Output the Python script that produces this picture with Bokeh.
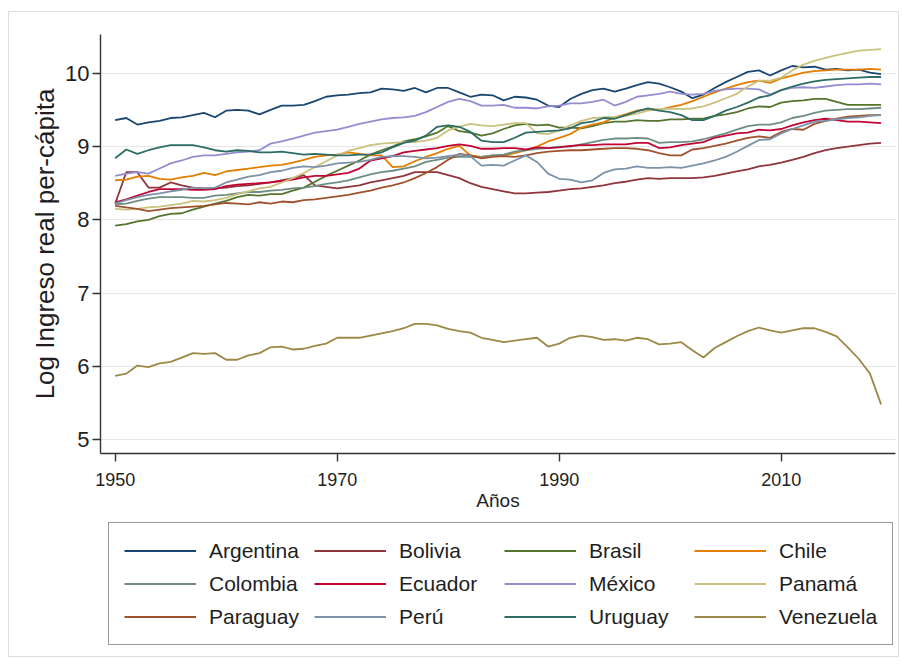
from bokeh.plotting import figure
from bokeh.layouts import column
from bokeh.models import Range1d, FixedTicker, Legend, LegendItem
from bokeh.embed import file_html
from bokeh.resources import INLINE

# Log real GDP per capita, 1950-2019
years = list(range(1950, 2020))

argentina = [9.36, 9.39, 9.30, 9.33, 9.35, 9.39, 9.40, 9.43, 9.46, 9.40,
             9.49, 9.50, 9.49, 9.44, 9.50, 9.56, 9.56, 9.57, 9.62, 9.68,
             9.70, 9.71, 9.73, 9.74, 9.79, 9.78, 9.76, 9.80, 9.74, 9.80,
             9.80, 9.74, 9.68, 9.71, 9.70, 9.63, 9.68, 9.67, 9.64, 9.56,
             9.54, 9.65, 9.72, 9.77, 9.79, 9.75, 9.79, 9.84, 9.88, 9.86,
             9.81, 9.75, 9.66, 9.71, 9.80, 9.88, 9.95, 10.02, 10.04, 9.97,
             10.04, 10.10, 10.08, 10.09, 10.05, 10.06, 10.04, 10.05, 10.01, 9.99]
bolivia = [8.22, 8.65, 8.65, 8.44, 8.44, 8.51, 8.47, 8.44, 8.43, 8.43,
           8.44, 8.46, 8.47, 8.49, 8.51, 8.54, 8.57, 8.61, 8.47, 8.45,
           8.43, 8.45, 8.47, 8.51, 8.54, 8.57, 8.60, 8.65, 8.65, 8.65,
           8.61, 8.57, 8.50, 8.45, 8.42, 8.39, 8.36, 8.36, 8.37, 8.38,
           8.40, 8.42, 8.43, 8.45, 8.47, 8.50, 8.52, 8.55, 8.57, 8.56,
           8.57, 8.57, 8.57, 8.58, 8.60, 8.63, 8.66, 8.69, 8.73, 8.75,
           8.78, 8.82, 8.86, 8.91, 8.95, 8.98, 9.00, 9.02, 9.04, 9.05]
brasil = [7.92, 7.94, 7.98, 8.00, 8.05, 8.08, 8.09, 8.14, 8.18, 8.22,
          8.26, 8.31, 8.34, 8.33, 8.35, 8.35, 8.40, 8.44, 8.52, 8.60,
          8.67, 8.74, 8.81, 8.89, 8.95, 9.00, 9.07, 9.10, 9.14, 9.19,
          9.28, 9.21, 9.19, 9.15, 9.18, 9.24, 9.29, 9.31, 9.29, 9.30,
          9.26, 9.26, 9.25, 9.28, 9.32, 9.34, 9.34, 9.36, 9.35, 9.35,
          9.37, 9.37, 9.38, 9.38, 9.42, 9.44, 9.47, 9.52, 9.55, 9.54,
          9.60, 9.62, 9.63, 9.65, 9.65, 9.61, 9.57, 9.57, 9.57, 9.57]
chile = [8.54, 8.55, 8.59, 8.60, 8.56, 8.55, 8.58, 8.60, 8.64, 8.61,
         8.66, 8.68, 8.70, 8.72, 8.74, 8.75, 8.78, 8.82, 8.86, 8.88,
         8.89, 8.92, 8.90, 8.88, 8.88, 8.72, 8.73, 8.80, 8.86, 8.91,
         8.97, 9.01, 8.88, 8.86, 8.88, 8.88, 8.91, 8.95, 9.00, 9.07,
         9.12, 9.17, 9.26, 9.30, 9.33, 9.40, 9.44, 9.49, 9.51, 9.50,
         9.54, 9.57, 9.62, 9.68, 9.74, 9.79, 9.84, 9.88, 9.90, 9.87,
         9.93, 9.97, 10.01, 10.03, 10.04, 10.05, 10.05, 10.05, 10.06, 10.05]
colombia = [8.21, 8.22, 8.26, 8.29, 8.31, 8.31, 8.31, 8.30, 8.30, 8.33,
            8.34, 8.36, 8.38, 8.38, 8.40, 8.41, 8.43, 8.44, 8.46, 8.49,
            8.51, 8.54, 8.58, 8.62, 8.65, 8.67, 8.70, 8.73, 8.79, 8.82,
            8.85, 8.86, 8.86, 8.86, 8.88, 8.89, 8.93, 8.95, 8.97, 8.98,
            9.00, 9.00, 9.03, 9.06, 9.09, 9.11, 9.11, 9.12, 9.11, 9.05,
            9.06, 9.06, 9.07, 9.10, 9.14, 9.18, 9.23, 9.28, 9.30, 9.30,
            9.33, 9.39, 9.42, 9.46, 9.49, 9.50, 9.51, 9.51, 9.52, 9.53]
ecuador = [8.24, 8.28, 8.33, 8.38, 8.42, 8.42, 8.42, 8.41, 8.41, 8.42,
           8.46, 8.48, 8.49, 8.50, 8.51, 8.53, 8.55, 8.58, 8.60, 8.60,
           8.62, 8.64, 8.70, 8.81, 8.84, 8.87, 8.92, 8.94, 8.96, 8.98,
           9.01, 9.03, 9.01, 8.97, 8.97, 8.98, 8.98, 8.96, 8.99, 8.98,
           8.99, 9.01, 9.02, 9.02, 9.03, 9.03, 9.03, 9.05, 9.05, 8.98,
           8.99, 9.02, 9.04, 9.06, 9.12, 9.15, 9.18, 9.19, 9.23, 9.22,
           9.24, 9.29, 9.33, 9.36, 9.38, 9.36, 9.34, 9.34, 9.33, 9.32]
mexico = [8.60, 8.63, 8.65, 8.63, 8.70, 8.77, 8.81, 8.86, 8.88, 8.88,
          8.90, 8.92, 8.93, 8.95, 9.04, 9.07, 9.11, 9.15, 9.19, 9.21,
          9.23, 9.27, 9.31, 9.34, 9.37, 9.39, 9.40, 9.42, 9.47, 9.54,
          9.61, 9.65, 9.62, 9.56, 9.56, 9.57, 9.53, 9.53, 9.52, 9.55,
          9.56, 9.59, 9.59, 9.61, 9.64, 9.56, 9.61, 9.68, 9.70, 9.72,
          9.75, 9.72, 9.71, 9.72, 9.76, 9.78, 9.79, 9.79, 9.78, 9.71,
          9.77, 9.80, 9.81, 9.80, 9.82, 9.84, 9.85, 9.85, 9.86, 9.85]
panama = [8.15, 8.14, 8.15, 8.17, 8.18, 8.20, 8.22, 8.26, 8.25, 8.27,
          8.30, 8.35, 8.39, 8.43, 8.45, 8.51, 8.57, 8.64, 8.72, 8.80,
          8.88, 8.94, 8.98, 9.02, 9.04, 9.05, 9.06, 9.06, 9.08, 9.12,
          9.22, 9.27, 9.31, 9.29, 9.28, 9.30, 9.32, 9.32, 9.18, 9.17,
          9.22, 9.29, 9.35, 9.39, 9.40, 9.40, 9.42, 9.45, 9.49, 9.51,
          9.52, 9.51, 9.52, 9.55, 9.60, 9.66, 9.72, 9.82, 9.90, 9.90,
          9.94, 10.04, 10.12, 10.17, 10.21, 10.25, 10.28, 10.31, 10.32, 10.33]
paraguay = [8.19, 8.17, 8.15, 8.12, 8.14, 8.16, 8.17, 8.18, 8.19, 8.21,
            8.23, 8.22, 8.21, 8.24, 8.22, 8.25, 8.24, 8.27, 8.28, 8.30,
            8.32, 8.34, 8.37, 8.40, 8.44, 8.47, 8.51, 8.57, 8.64, 8.72,
            8.82, 8.90, 8.88, 8.84, 8.86, 8.87, 8.86, 8.88, 8.91, 8.93,
            8.94, 8.95, 8.95, 8.96, 8.97, 8.98, 8.98, 8.97, 8.95, 8.91,
            8.88, 8.88, 8.96, 8.98, 9.01, 9.04, 9.08, 9.12, 9.14, 9.12,
            9.20, 9.24, 9.23, 9.31, 9.35, 9.38, 9.41, 9.42, 9.43, 9.43]
peru = [8.22, 8.27, 8.31, 8.34, 8.36, 8.39, 8.41, 8.44, 8.43, 8.44,
        8.51, 8.55, 8.59, 8.61, 8.65, 8.67, 8.71, 8.73, 8.72, 8.74,
        8.77, 8.78, 8.79, 8.82, 8.86, 8.87, 8.87, 8.86, 8.84, 8.85,
        8.87, 8.89, 8.87, 8.74, 8.75, 8.74, 8.81, 8.88, 8.79, 8.63,
        8.56, 8.55, 8.51, 8.54, 8.64, 8.69, 8.70, 8.73, 8.71, 8.71,
        8.72, 8.71, 8.74, 8.77, 8.81, 8.86, 8.93, 9.01, 9.09, 9.10,
        9.18, 9.24, 9.29, 9.34, 9.35, 9.37, 9.39, 9.40, 9.42, 9.43]
uruguay = [8.84, 8.96, 8.90, 8.95, 8.99, 9.02, 9.02, 9.02, 8.99, 8.95,
           8.93, 8.95, 8.94, 8.92, 8.92, 8.93, 8.91, 8.89, 8.90, 8.89,
           8.88, 8.88, 8.89, 8.89, 8.92, 8.99, 9.05, 9.08, 9.15, 9.27,
           9.29, 9.27, 9.20, 9.08, 9.06, 9.06, 9.12, 9.19, 9.20, 9.21,
           9.22, 9.25, 9.32, 9.34, 9.39, 9.38, 9.43, 9.48, 9.52, 9.49,
           9.47, 9.43, 9.36, 9.36, 9.42, 9.49, 9.54, 9.60, 9.67, 9.70,
           9.77, 9.82, 9.86, 9.89, 9.91, 9.92, 9.93, 9.94, 9.95, 9.95]
venezuela = [5.87, 5.90, 6.01, 5.99, 6.04, 6.06, 6.12, 6.18, 6.17, 6.18,
             6.09, 6.09, 6.15, 6.18, 6.26, 6.27, 6.23, 6.24, 6.28, 6.31,
             6.39, 6.39, 6.39, 6.42, 6.45, 6.48, 6.52, 6.58, 6.58, 6.56,
             6.51, 6.48, 6.46, 6.39, 6.36, 6.33, 6.35, 6.37, 6.39, 6.27,
             6.31, 6.39, 6.42, 6.40, 6.36, 6.37, 6.35, 6.39, 6.37, 6.30,
             6.31, 6.33, 6.22, 6.12, 6.25, 6.33, 6.41, 6.48, 6.53, 6.49,
             6.46, 6.49, 6.52, 6.52, 6.47, 6.41, 6.26, 6.10, 5.90, 5.48]

countries = ["Argentina", "Bolivia", "Brasil", "Chile",
             "Colombia", "Ecuador", "México", "Panamá",
             "Paraguay", "Perú", "Uruguay", "Venezuela"]
series = [argentina, bolivia, brasil, chile, colombia, ecuador,
          mexico, panama, paraguay, peru, uruguay, venezuela]
colors = ["#1a476f", "#90353b", "#55752f", "#e37e00",
          "#6e8e84", "#c10534", "#938dd2", "#cac27e",
          "#a0522d", "#7b92a8", "#2d6d66", "#9c8847"]

y_ticks = [5, 6, 7, 8, 9, 10]
x_ticks = [1950, 1970, 1990, 2010]

FONT = "Liberation Sans"
INK = "#1e1e1e"
LINE_W = 1.8
W = 889

# ---- main chart -------------------------------------------------------
p = figure(width=W, height=505, output_backend="svg", toolbar_location=None,
           x_range=Range1d(1948.68, 2020.3), y_range=Range1d(4.81, 10.53),
           min_border_left=91, min_border_right=W - 886,
           min_border_top=22, min_border_bottom=64)
p.background_fill_color = "white"
p.border_fill_color = "white"
p.outline_line_color = None

# grid: horizontal only
p.xgrid.visible = False
p.ygrid.ticker = FixedTicker(ticks=y_ticks)
p.ygrid.grid_line_color = "#e6e6e6"
p.ygrid.grid_line_width = 1

for ax in (p.xaxis[0], p.yaxis[0]):
    ax.axis_line_color = "#333333"
    ax.axis_line_width = 1.4
    ax.major_tick_line_color = "#333333"
    ax.major_tick_line_width = 1.4
    ax.minor_tick_line_color = None
    ax.major_tick_in = 0
    ax.major_label_text_font = FONT
    ax.major_label_text_color = INK
    ax.axis_label_text_font = FONT
    ax.axis_label_text_color = INK
    ax.axis_label_text_font_style = "normal"

p.xaxis.ticker = FixedTicker(ticks=x_ticks)
p.xaxis.major_tick_out = 8
p.xaxis.major_label_text_font_size = "18px"
p.xaxis.major_label_standoff = 11
p.xaxis.axis_label = "Años"
p.xaxis.axis_label_text_font_size = "19px"
p.xaxis.axis_label_standoff = 1

p.yaxis.ticker = FixedTicker(ticks=y_ticks)
p.yaxis.major_tick_out = 8
p.yaxis.major_label_text_font_size = "22px"
p.yaxis.major_label_standoff = 3
p.yaxis.axis_label = "Log Ingreso real per-cápita"
p.yaxis.axis_label_text_font_size = "26px"
p.yaxis.axis_label_standoff = 2

for name, vals, col in zip(countries, series, colors):
    p.line(years, vals, line_color=col, line_width=LINE_W)

# ---- legend strip (its frame lines up with the chart frame) -----------
leg = figure(width=W, height=139, output_backend="svg", toolbar_location=None,
             x_range=Range1d(0, 1), y_range=Range1d(0, 1),
             x_axis_type=None, y_axis_type=None,
             min_border=0, min_border_left=0, min_border_right=0,
             min_border_top=0, min_border_bottom=0)
leg.grid.visible = False
leg.outline_line_color = None
leg.background_fill_color = "white"
leg.border_fill_color = "white"

items = []
for name, col in zip(countries, colors):
    # key samples only: their points lie outside the visible range
    r = leg.line(x=[-5, -4], y=[-5, -4], line_color=col, line_width=LINE_W)
    items.append(LegendItem(label=name, renderers=[r]))

legend = Legend(items=items, ncols=4, orientation="horizontal",
                location=(8, 11), margin=0,
                label_text_font=FONT, label_text_font_size="21px",
                label_text_color=INK,
                glyph_width=72, glyph_height=25, label_height=25,
                label_width=97, label_standoff=13, spacing=8, padding=15,
                border_line_color="#333333", border_line_width=1,
                background_fill_color="white", background_fill_alpha=1)
leg.add_layout(legend, "center")

# thin light frame around the whole graph region
page = column(p, leg, margin=(11, 0, 0, 8), spacing=0)
page.styles = {"border": "1px solid #dedede"}

open("out.html", "w").write(file_html(page, INLINE))
